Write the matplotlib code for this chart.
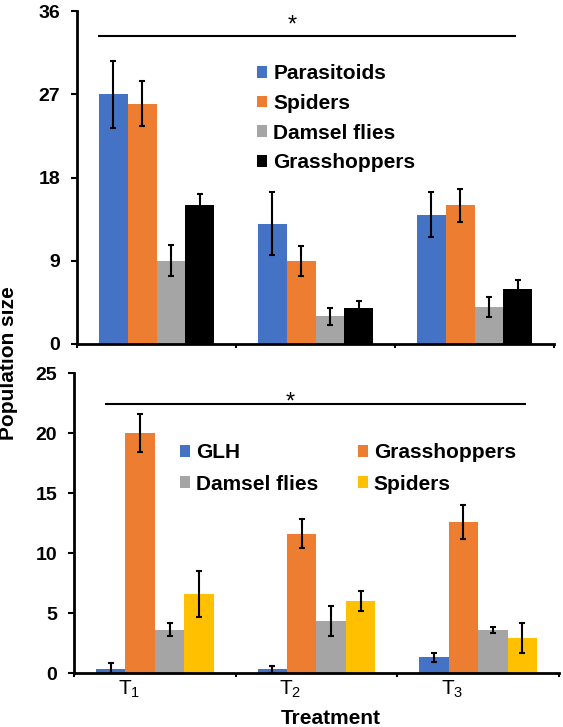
import matplotlib
matplotlib.use("Agg")
import matplotlib.pyplot as plt
import numpy as np

plt.rcParams['font.family'] = ['Liberation Sans', 'DejaVu Sans']
plt.rcParams['mathtext.fontset'] = 'custom'
plt.rcParams['mathtext.rm'] = 'Liberation Sans'
plt.rcParams['mathtext.it'] = 'Liberation Sans'

treatments = ["T$_1$", "T$_2$", "T$_3$"]

# Top panel
top_series = ["Parasitoids", "Spiders", "Damsel flies", "Grasshoppers"]
top_colors = ["#4472C4", "#ED7D31", "#A5A5A5", "#000000"]
top_parasitoids = [27.0, 13.0, 14.0]
top_spiders = [26.0, 9.0, 15.0]
top_damsel = [9.0, 3.0, 4.0]
top_grass = [15.0, 3.9, 5.9]
top_parasitoids_err = [3.6, 3.4, 2.4]
top_spiders_err = [2.4, 1.6, 1.8]
top_damsel_err = [1.7, 0.9, 1.1]
top_grass_err = [1.2, 0.8, 1.0]

# Bottom panel
bot_series = ["GLH", "Grasshoppers", "Damsel flies", "Spiders"]
bot_colors = ["#4472C4", "#ED7D31", "#A5A5A5", "#FFC000"]
bot_glh = [0.3, 0.3, 1.3]
bot_grass = [20.0, 11.6, 12.6]
bot_damsel = [3.6, 4.3, 3.6]
bot_spiders = [6.6, 6.0, 2.9]
bot_glh_err = [0.55, 0.3, 0.4]
bot_grass_err = [1.55, 1.2, 1.4]
bot_damsel_err = [0.55, 1.25, 0.25]
bot_spiders_err = [1.9, 0.8, 1.25]

W, H = 563, 727
fig = plt.figure(figsize=(W/100, H/100), dpi=100)

ax1 = fig.add_axes([77/W, 1-344/H, (554-77)/W, (344-11)/H])
ax2 = fig.add_axes([74/W, 1-673/H, (559-74)/W, (673-373)/H])

x = np.arange(3)
w = 1/5.5
offsets = np.array([-1.5, -0.5, 0.5, 1.5]) * w

def draw(ax, vals, errs, colors, labels):
    handles = []
    for i, (v, e, c, l) in enumerate(zip(vals, errs, colors, labels)):
        b = ax.bar(x + offsets[i], v, width=w, color=c, label=l, zorder=2)
        ax.errorbar(x + offsets[i], v, yerr=e, fmt='none', ecolor='black',
                    elinewidth=1.5, capsize=2.2, capthick=1.5, zorder=3)
        handles.append(b)
    return handles

def style(ax, ymax, ystep):
    ax.set_xlim(-0.5, 2.5)
    ax.set_ylim(0, ymax)
    ax.set_yticks(np.arange(0, ymax + 0.1, ystep))
    for s in ['top', 'right']:
        ax.spines[s].set_visible(False)
    for s in ['left', 'bottom']:
        ax.spines[s].set_linewidth(2)
    ax.tick_params(axis='y', direction='out', length=4, width=1.5, pad=8,
                   labelsize=14)
    for t in ax.get_yticklabels():
        t.set_fontweight('bold')
    ax.set_xticks([-0.5, 0.5, 1.5, 2.5], minor=True)
    ax.tick_params(axis='x', which='minor', direction='out', length=3, width=1.5)

h1 = draw(ax1, [top_parasitoids, top_spiders, top_damsel, top_grass],
          [top_parasitoids_err, top_spiders_err, top_damsel_err, top_grass_err],
          top_colors, top_series)
style(ax1, 36, 9)
ax1.set_xticks([])
ax1.set_xticks([-0.5, 0.5, 1.5, 2.5], minor=True)
ax1.tick_params(axis='x', which='minor', direction='out', length=3, width=1.5)

h2 = draw(ax2, [bot_glh, bot_grass, bot_damsel, bot_spiders],
          [bot_glh_err, bot_grass_err, bot_damsel_err, bot_spiders_err],
          bot_colors, bot_series)
style(ax2, 25, 5)
ax2.set_xticks(x - 0.16)
ax2.set_xticklabels(treatments, fontsize=15)
ax2.tick_params(axis='x', which='major', length=0, pad=4)

# significance lines
ax1.plot([-0.36, 2.255], [33.3, 33.3], color='black', lw=1.5, clip_on=False)
ax1.text(0.855, 33.75, "*", ha='center', va='baseline', fontsize=17)
ax2.plot([-0.30, 2.29], [22.4, 22.4], color='black', lw=1.5, clip_on=False)
ax2.text(0.835, 22.0, "*", ha='center', va='baseline', fontsize=17)

leg_kw = dict(frameon=False, prop={'weight': 'bold', 'size': 15},
              handlelength=0.5, handleheight=0.5, handletextpad=0.28,
              borderpad=0, borderaxespad=0, loc='upper left')
ax1.legend(handles=h1, labels=top_series, labelspacing=0.52,
           bbox_to_anchor=(257/W, 1-64/H), bbox_transform=fig.transFigure,
           **leg_kw)
order = [0, 2, 1, 3]
ax2.legend(handles=[h2[i] for i in order], labels=[bot_series[i] for i in order],
           ncol=2, columnspacing=1.9, labelspacing=0.6,
           bbox_to_anchor=(179.5/W, 1-443/H), bbox_transform=fig.transFigure,
           **leg_kw)

fig.text(9/W, 1-363/H, "Population size", rotation=90, ha='center', va='center',
         fontsize=15, fontweight='bold')
fig.text(331/W, 1-719/H, "Treatment", ha='center', va='center',
         fontsize=15, fontweight='bold')

fig.savefig("out.png", dpi=100)
